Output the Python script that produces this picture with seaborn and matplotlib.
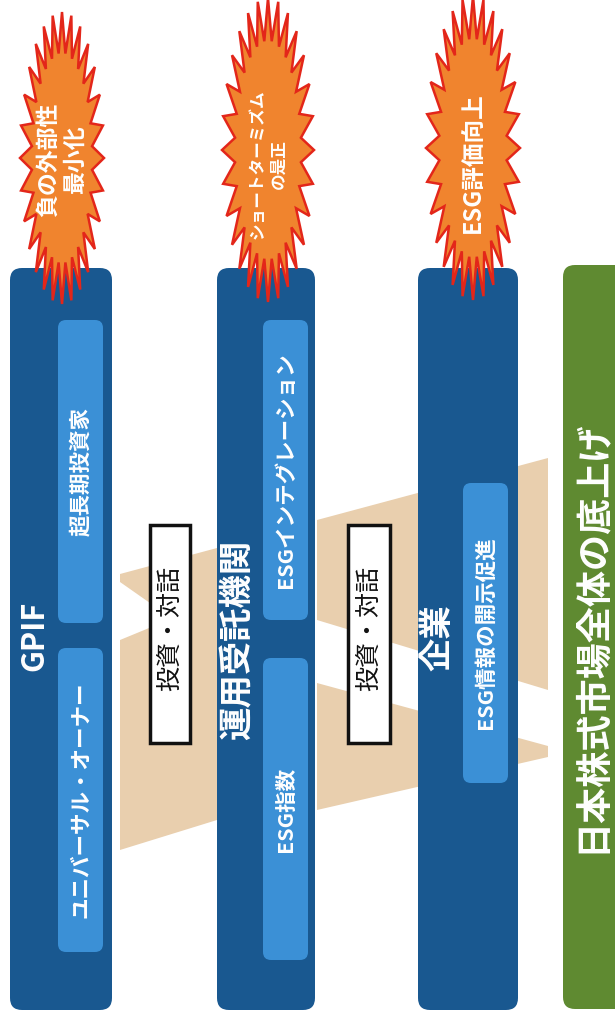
import numpy as np
import matplotlib
matplotlib.use("Agg")
import matplotlib.pyplot as plt
import seaborn as sns
from matplotlib.patches import FancyBboxPatch, Polygon, Rectangle

# ---- content ----
column_titles = ["GPIF", "運用受託機関", "企業"]
inner_labels = [["超長期投資家", "ユニバーサル・オーナー"],
                ["ESGインテグレーション", "ESG指数"],
                ["ESG情報の開示促進"]]
burst_labels = ["負の外部性\n最小化", "ショートターミズム\nの是正", "ESG評価向上"]
link_label = "投資・対話"
market_label = "日本株式市場全体の底上げ"

sns.set_theme(style="white")
plt.rcParams['font.family'] = ['Noto Sans CJK JP', 'DejaVu Sans']

DARK = "#195890"
LIGHT = "#3b90d6"
BEIGE = "#e9cfae"
GREEN = "#5f8a31"
ORANGE = "#f0842e"
RED = "#e3261a"

fig = plt.figure(figsize=(6.15, 10.21), dpi=100)
ax = fig.add_axes([0, 0, 1, 1])
ax.set_xlim(0, 615)
ax.set_ylim(1021, 0)
ax.axis('off')

# beige beams
beams = [
    [(120, 574), (217, 548), (217, 650), (120, 582)],
    [(120, 640), (217, 600), (217, 820), (120, 850)],
    [(317, 520), (548, 458), (548, 690), (317, 620)],
    [(317, 683), (548, 746), (548, 757), (317, 810)],
]
for b in beams:
    ax.add_patch(Polygon(b, closed=True, fc=BEIGE, ec='none', zorder=1))

# columns
col_x = [(10, 112), (217, 315), (418, 518)]
col_top, col_bot = 268, 1010
for (x0, x1) in col_x:
    ax.add_patch(FancyBboxPatch((x0, col_top), x1 - x0, col_bot - col_top,
                                boxstyle="round,pad=0,rounding_size=12",
                                fc=DARK, ec='none', zorder=2))

# green market column
ax.add_patch(FancyBboxPatch((563, 265), 80, 1009 - 265,
                            boxstyle="round,pad=0,rounding_size=12",
                            fc=GREEN, ec='none', zorder=2))
ax.text(591, 636, market_label, rotation=90, ha='center', va='center',
        color='white', fontsize=26, fontweight='bold', zorder=5)

# inner boxes
inner_boxes = [
    [(58, 103, 320, 623), (58, 103, 648, 952)],
    [(263, 308, 320, 620), (263, 308, 658, 960)],
    [(463, 508, 483, 783)],
]
for ci, boxes in enumerate(inner_boxes):
    for bi, (x0, x1, y0, y1) in enumerate(boxes):
        ax.add_patch(FancyBboxPatch((x0, y0), x1 - x0, y1 - y0,
                                    boxstyle="round,pad=0,rounding_size=8",
                                    fc=LIGHT, ec='none', zorder=3))
        ax.text((x0 + x1) / 2, (y0 + y1) / 2, inner_labels[ci][bi],
                rotation=90, ha='center', va='center', color='white',
                fontsize=15.5, fontweight='bold', zorder=5)

# column titles
title_pos = [(34, 636, 22), (238, 640, 24), (438, 638, 24)]
for (x, y, fs), t in zip(title_pos, column_titles):
    ax.text(x, y, t, rotation=90, ha='center', va='center', color='white',
            fontsize=fs, fontweight='bold', zorder=5)

# link boxes
for x0, x1 in [(150, 190), (348, 390)]:
    ax.add_patch(Rectangle((x0, 525), x1 - x0, 218, fc='white', ec='#111111',
                           lw=2.5, zorder=4))
    ax.text((x0 + x1) / 2, 628, link_label, rotation=90, ha='center',
            va='center', color='#111111', fontsize=18, zorder=5)

# bursts
bursts = [(62, 158, 42, 146), (268, 150, 46, 152), (473, 148, 47, 152)]
burst_text_y = [160, 164, 163]
burst_fs = [16.5, 12, 17]
n = 28
for (cx, cy, a, b), ty, lab, fs in zip(bursts, burst_text_y, burst_labels, burst_fs):
    t = np.linspace(0, 2 * np.pi, 2 * n, endpoint=False)
    r = np.where(np.arange(2 * n) % 2 == 0, 1.0, 0.72)
    pts = np.column_stack([cx + a * r * np.cos(t), cy + b * r * np.sin(t)])
    ax.add_patch(Polygon(pts, closed=True, fc=ORANGE, ec=RED, lw=1.8,
                         joinstyle='miter', zorder=6))
    ax.text(cx, ty, lab, rotation=90, ha='center', va='center',
            multialignment='center', color='white', fontsize=fs,
            fontweight='bold', linespacing=1.2, zorder=7)

fig.savefig("out.png", dpi=100)
